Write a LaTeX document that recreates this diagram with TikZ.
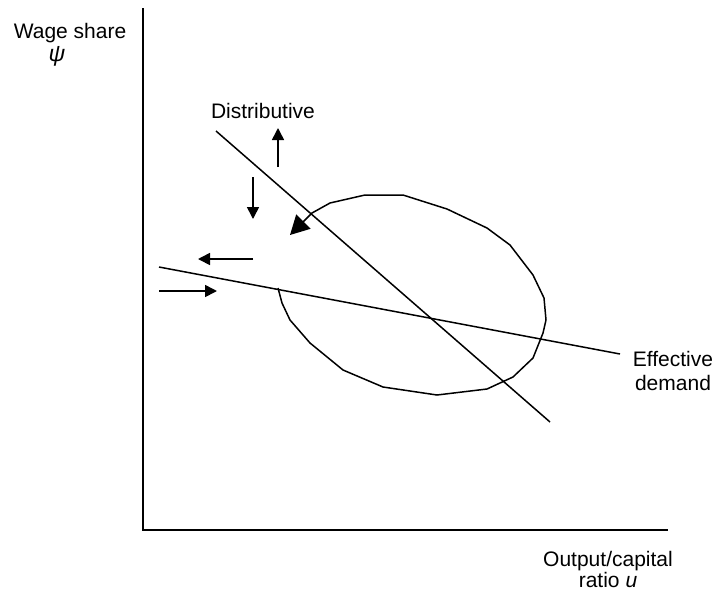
\documentclass[tikz,border=0pt]{standalone}
\usepackage{fontspec}
\setmainfont{Liberation Sans}
\usetikzlibrary{arrows.meta}
\begin{document}
\begin{tikzpicture}[x=1pt,y=-1pt,
  lbl/.style={font=\fontsize{21}{22}\selectfont, inner sep=0pt},
  axisline/.style={line width=2pt},
  curveline/.style={line width=1.5pt},
  smallarrow/.style={line width=1.6pt,-{Triangle[length=12pt,width=12pt]}},
  bigarrow/.style={line width=1.5pt,-{Triangle[length=19pt,width=20pt]}}]
\useasboundingbox (0,0) rectangle (718,590);
% axes
\coordinate (ytop) at (143,8);
\coordinate (origin) at (143,530);
\coordinate (xend) at (668,530);
\draw[axisline] (ytop) -- (origin) -- (xend);
% labels
\node[lbl, anchor=base] (wage) at (70,38) {Wage share};
\node[lbl, anchor=center, font=\fontsize{23}{24}\selectfont] (psi) at (57,56) {\itshape ψ};
\node[lbl, anchor=base] (distlbl) at (263,118) {Distributive};
\node[lbl, align=center, font=\fontsize{21}{24}\selectfont] (edlbl) at (673,371) {Effective\\demand};
\node[lbl, align=center, font=\fontsize{21}{21}\selectfont] (xlbl) at (608,569) {Output/capital\\ratio \textit{u}};
% lines
\coordinate (d1) at (216,131);
\coordinate (d2) at (550,422);
\draw[curveline] (d1) -- (d2);
\coordinate (e1) at (159,267);
\coordinate (e2) at (620,354);
\draw[curveline] (e1) -- (e2);
% spiral cycle
\coordinate (c0) at (278,288);
\coordinate (ctip) at (290,235);
\draw[bigarrow, line join=round] (c0) -- (282,303) -- (290,320) -- (310,343) -- (343,370) -- (383,387)
  -- (437,395) -- (487,389) -- (513,377) -- (533,358) -- (543,333) -- (546,320)
  -- (544,298) -- (533,275) -- (510,245) -- (487,228) -- (447,209) -- (403,195)
  -- (365,195) -- (330,203) -- (312,213) -- (ctip);
% small arrows
\coordinate (ua1) at (278,167); \coordinate (ua2) at (278,128);
\draw[smallarrow] (ua1) -- (ua2);
\coordinate (da1) at (253,177); \coordinate (da2) at (253,219);
\draw[smallarrow] (da1) -- (da2);
\coordinate (la1) at (253,259); \coordinate (la2) at (198,259);
\draw[smallarrow] (la1) -- (la2);
\coordinate (ra1) at (159,291); \coordinate (ra2) at (217,291);
\draw[smallarrow] (ra1) -- (ra2);
\end{tikzpicture}
\end{document}
